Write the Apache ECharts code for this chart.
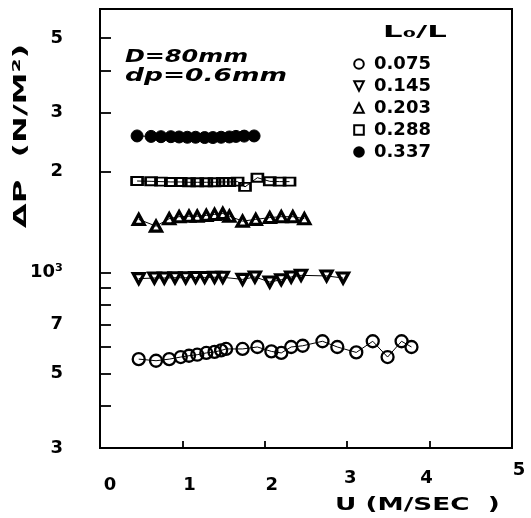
<!DOCTYPE html>
<html>
<head>
<meta charset="utf-8">
<script src="https://cdn.jsdelivr.net/npm/echarts@6/dist/echarts.min.js"></script>
<style>
html,body{margin:0;padding:0;background:#fff;}
#c{width:531px;height:518px;}
</style>
</head>
<body>
<div id="c"></div>
<script>
// ---- data ----
const seriesNames = ['0.075', '0.145', '0.203', '0.288', '0.337'];

const u075  = [0.47, 0.68, 0.84, 0.98, 1.08, 1.18, 1.29, 1.39, 1.47, 1.53, 1.73, 1.91, 2.08, 2.20, 2.32, 2.46, 2.70, 2.88, 3.11, 3.31, 3.49, 3.66, 3.78];
const dp075 = [552, 546, 552, 560, 565, 569, 576, 580, 586, 592, 592, 600, 582, 576, 600, 605, 624, 600, 578, 624, 560, 624, 600];

const u145  = [0.47, 0.66, 0.78, 0.91, 1.04, 1.16, 1.27, 1.39, 1.49, 1.73, 1.88, 2.06, 2.20, 2.32, 2.44, 2.75, 2.95];
const dp145 = [959, 963, 963, 965, 965, 967, 967, 968, 968, 954, 970, 937, 952, 970, 981, 977, 963];

const u203  = [0.47, 0.68, 0.84, 0.96, 1.08, 1.18, 1.29, 1.39, 1.49, 1.57, 1.73, 1.89, 2.06, 2.20, 2.34, 2.48];
const dp203 = [1440, 1375, 1447, 1467, 1472, 1472, 1480, 1490, 1500, 1472, 1423, 1440, 1458, 1467, 1467, 1447];

const u288  = [0.45, 0.62, 0.74, 0.86, 0.98, 1.08, 1.18, 1.29, 1.39, 1.49, 1.57, 1.67, 1.76, 1.91, 2.06, 2.18, 2.30];
const dp288 = [1874, 1870, 1866, 1862, 1862, 1858, 1858, 1858, 1858, 1862, 1862, 1866, 1800, 1917, 1870, 1866, 1866];

const u337  = [0.45, 0.62, 0.74, 0.86, 0.96, 1.06, 1.16, 1.27, 1.37, 1.47, 1.57, 1.65, 1.75, 1.87];
const dp337 = [2553, 2545, 2540, 2540, 2535, 2530, 2530, 2525, 2525, 2530, 2535, 2545, 2550, 2553];

const xTickLabels = ['0', '1', '2', '3', '4', '5'];
const yTickValues = [300, 400, 500, 600, 700, 800, 900, 1000, 2000, 3000, 4000, 5000];
const yLabelValues = [300, 500, 700, 1000, 2000, 3000, 5000];
const yLabelTexts  = ['3', '5', '7', '10³', '2', '3', '5'];
const yMin = 300, yMax = 6100;
const xMin = 0, xMax = 5, xStep = 1;

// ---- chart ----
const FONT = 'DejaVu Sans';
const L = Math.log10;
const pair = (xs, ys) => xs.map((x, i) => [x, ys[i]]);

const chart = echarts.init(document.getElementById('c'), null, {renderer: 'canvas'});

const common = {
  type: 'line',
  xAxisIndex: 0,
  yAxisIndex: 0,
  showAllSymbol: true,
  lineStyle: {color: '#000', width: 1},
  emphasis: {disabled: true},
  silent: true
};
const hollow = {color: 'rgba(0,0,0,0)', borderColor: '#000', borderWidth: 2.3};

function xRich() {
  const pads = {
    t0: [15, 0, 0, 20], t1: [15, 0, 0, 14], t2: [15, 0, 0, 14],
    t3: [8, 0, 0, 6], t4: [8, 6, 0, 0], t5: [0, 0, 0, 14]
  };
  const r = {};
  Object.keys(pads).forEach(k => {
    r[k] = {fontFamily: FONT, fontSize: 18, fontWeight: 'bold', color: '#000', padding: pads[k]};
  });
  return r;
}

const option = {
  backgroundColor: '#fff',
  animation: false,
  grid: {
    left: 100, right: 19, top: 9, bottom: 70,
    show: true, borderColor: '#000', borderWidth: 2, backgroundColor: 'rgba(0,0,0,0)'
  },
  xAxis: {
    type: 'value', min: xMin, max: xMax, interval: xStep,
    axisLine: {show: false},
    splitLine: {show: false},
    axisTick: {inside: true, length: 7, lineStyle: {color: '#000', width: 1.8}},
    axisLabel: {
      margin: 13, color: '#000', fontFamily: FONT, fontSize: 18, fontWeight: 'bold',
      formatter: v => '{t' + Math.round(v) + '|' + xTickLabels[Math.round(v)] + '}',
      rich: xRich()
    }
  },
  yAxis: [
    {
      type: 'log', logBase: 10, min: yMin, max: yMax,
      show: false
    },
    {
      type: 'value', position: 'left', min: L(yMin), max: L(yMax),
      axisLine: {show: false},
      splitLine: {show: false},
      axisTick: {
        show: true, inside: true, length: 11,
        customValues: yTickValues.map(L),
        lineStyle: {color: '#000', width: 1.8}
      },
      axisLabel: {
        customValues: yLabelValues.map(L),
        margin: 37, color: '#000', fontFamily: FONT, fontSize: 18, fontWeight: 'bold',
        formatter: v => {
          for (let i = 0; i < yLabelValues.length; i++) {
            if (Math.abs(L(yLabelValues[i]) - v) < 1e-4) return yLabelTexts[i];
          }
          return '';
        }
      }
    }
  ],
  legend: {
    orient: 'vertical', left: 343, top: 50,
    itemWidth: 20, itemHeight: 12, itemGap: 4,
    selectedMode: false,
    lineStyle: {opacity: 0},
    itemStyle: {borderWidth: 2},
    textStyle: {fontFamily: FONT, fontSize: 18, fontWeight: 'bold', color: '#000', lineHeight: 18},
    data: seriesNames
  },
  series: [
    Object.assign({}, common, {
      name: seriesNames[0], data: pair(u075, dp075),
      symbol: 'circle', symbolSize: 12, itemStyle: hollow
    }),
    Object.assign({}, common, {
      name: seriesNames[1], data: pair(u145, dp145),
      symbol: 'triangle', symbolRotate: 180, symbolSize: [11, 10],
      itemStyle: Object.assign({}, hollow, {borderWidth: 3.2})
    }),
    Object.assign({}, common, {
      name: seriesNames[2], data: pair(u203, dp203),
      symbol: 'triangle', symbolSize: [11, 10],
      itemStyle: Object.assign({}, hollow, {borderWidth: 3.2})
    }),
    Object.assign({}, common, {
      name: seriesNames[3], data: pair(u288, dp288),
      symbol: 'rect', symbolSize: [11, 8], itemStyle: hollow
    }),
    Object.assign({}, common, {
      name: seriesNames[4], data: pair(u337, dp337),
      symbol: 'circle', symbolSize: 12,
      itemStyle: {color: '#000', borderColor: '#000', borderWidth: 1}
    })
  ],
  graphic: [
    {type: 'text', x: 125, y: 57, scaleX: 1.33, silent: true,
     style: {text: 'D=80mm', fontFamily: FONT, fontSize: 18, fontWeight: 'bold', fontStyle: 'italic', fill: '#000', align: 'left', verticalAlign: 'middle'}},
    {type: 'text', x: 125, y: 76, scaleX: 1.47, silent: true,
     style: {text: 'dp=0.6mm', fontFamily: FONT, fontSize: 18, fontWeight: 'bold', fontStyle: 'italic', fill: '#000', align: 'left', verticalAlign: 'middle'}},
    {type: 'text', x: 415, y: 33, scaleX: 2.05, silent: true,
     style: {text: 'L₀/L', fontFamily: FONT, fontSize: 15, fontWeight: 'bold', fill: '#000', align: 'center', verticalAlign: 'middle'}},
    {type: 'text', x: 21, y: 136, rotation: Math.PI / 2, scaleX: 1.78, silent: true,
     style: {text: 'ΔP  (N/M²)', fontFamily: FONT, fontSize: 18, fontWeight: 'bold', fill: '#000', align: 'center', verticalAlign: 'middle'}},
    {type: 'text', x: 335, y: 505, scaleX: 1.46, silent: true,
     style: {text: 'U (M/SEC  )', fontFamily: FONT, fontSize: 18, fontWeight: 'bold', fill: '#000', align: 'left', verticalAlign: 'middle'}}
  ]
};

chart.setOption(option);
</script>
</body>
</html>
